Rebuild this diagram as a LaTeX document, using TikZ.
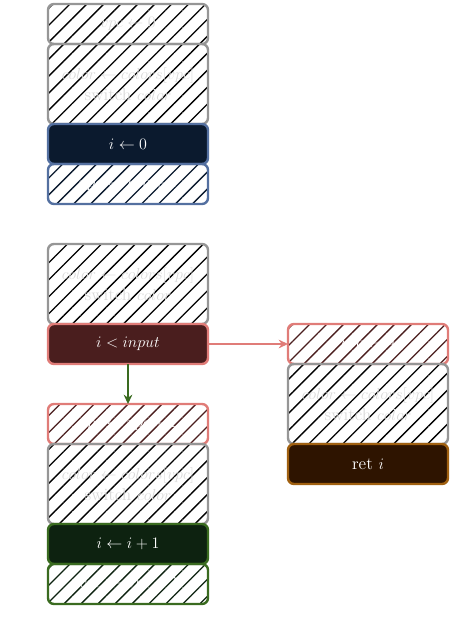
\documentclass[tikz,border=0pt]{standalone}
\usepackage{amsmath,amssymb}
\usepackage{tikz}
\usetikzlibrary{patterns.meta,arrows.meta}

\definecolor{edgegray}{RGB}{150,150,150}
\definecolor{textgray}{RGB}{218,218,218}
\definecolor{edgeblue}{RGB}{84,112,160}
\definecolor{fillblue}{RGB}{11,26,46}
\definecolor{edgered}{RGB}{224,124,120}
\definecolor{fillred}{RGB}{74,30,30}
\definecolor{edgegreen}{RGB}{58,107,32}
\definecolor{fillgreen}{RGB}{13,34,16}
\definecolor{edgeorange}{RGB}{160,96,16}
\definecolor{fillorange}{RGB}{46,20,0}

\begin{document}
\begin{tikzpicture}[x=0.75pt,y=-0.75pt,
  box/.style={rounded corners=4.5pt, line width=1.8pt, minimum width=120pt,
    minimum height=30pt, inner sep=0pt, outer sep=0pt, align=center,
    font=\fontsize{13}{15.5}\selectfont},
  tall/.style={minimum height=60pt},
  hatch/.style={pattern={Lines[angle=45,distance=9pt,line width=1pt]},
    pattern color=#1},
  graybox/.style={box, draw=edgegray, hatch=black, text=textgray},
  hidebox/.style={box, draw=#1, text=white},
  fullbox/.style 2 args={box, draw=#1, fill=#2, text=white}]
  \useasboundingbox (0,0) rectangle (451,634);

  % first block
  \node[graybox] (vpc0) at (128,24) {$vpc \gets 0$};
  \node[graybox, tall] (sw1) at (128,84) {$color \gets colors[vpc]$\\switch $color$};
  \node[fullbox={edgeblue}{fillblue}] (init) at (128,144) {$i \gets 0$};
  \node[hidebox=edgeblue, hatch=fillblue] (vpc1) at (128,184) {$vpc \gets vpc + 1$};

  % loop test
  \node[graybox, tall] (sw2) at (128,284) {$color \gets colors[vpc]$\\switch $color$};
  \node[fullbox={edgered}{fillred}] (test) at (128,344) {$i < input$};

  % loop body
  \node[hidebox=edgered, hatch=fillred] (vpc2) at (128,424) {$vpc \gets vpc + 1$};
  \node[graybox, tall] (sw3) at (128,484) {$color \gets colors[vpc]$\\switch $color$};
  \node[fullbox={edgegreen}{fillgreen}] (incr) at (128,544) {$i \gets i + 1$};
  \node[hidebox=edgegreen, hatch=fillgreen] (vpc3) at (128,584) {$vpc \gets vpc - 2$};

  % exit
  \node[hidebox=edgered, hatch=fillred] (vpc4) at (368,344) {$vpc \gets 4$};
  \node[graybox, tall] (sw4) at (368,404) {$color \gets colors[vpc]$\\switch $color$};
  \node[fullbox={edgeorange}{fillorange}] (ret) at (368,464) {ret $i$};

  \draw[-{Stealth[length=7pt,width=6.5pt]}, line width=1.3pt, edgered] (test.east) -- (vpc4.west);
  \draw[-{Stealth[length=7pt,width=6.5pt]}, line width=2pt, edgegreen] (test.south) -- (vpc2.north);
\end{tikzpicture}
\end{document}
